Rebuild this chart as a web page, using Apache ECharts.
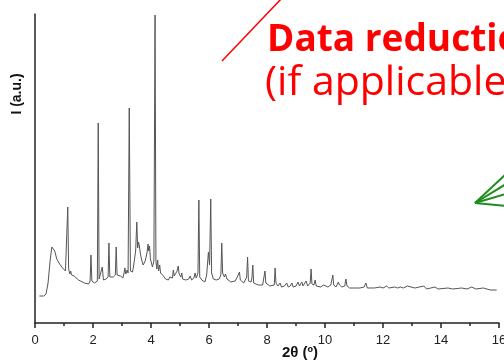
<!DOCTYPE html>
<html>
<head>
<meta charset="utf-8">
<script src="https://cdn.jsdelivr.net/npm/echarts@6/dist/echarts.min.js"></script>
<style>
  html, body { margin: 0; padding: 0; background: #fff; }
  #chart { width: 504px; height: 362px; }
</style>
</head>
<body>
<div id="chart"></div>
<script>
// 2θ positions (degrees)
const twoTheta = [
  0.15, 0.3, 0.38, 0.45, 0.52, 0.58, 0.62, 0.68, 0.75, 0.85, 0.95, 1.05, 1.10, 1.13, 1.16,
  1.2, 1.23, 1.26, 1.3, 1.35, 1.5, 1.7, 1.85, 1.90, 1.93, 1.96, 2.05, 2.15, 2.18, 2.21,
  2.27, 2.32, 2.36, 2.45, 2.52, 2.55, 2.58, 2.7, 2.77, 2.80, 2.83, 2.95, 3.03, 3.07, 3.10,
  3.13, 3.18, 3.21, 3.25, 3.29, 3.36, 3.39, 3.43, 3.47, 3.51, 3.54, 3.57, 3.60, 3.63, 3.67,
  3.73, 3.80, 3.86, 3.90, 3.92, 3.95, 3.98, 4.05, 4.10, 4.14, 4.17, 4.20, 4.23, 4.26, 4.30,
  4.33, 4.39, 4.43, 4.5, 4.6, 4.65, 4.68, 4.74, 4.77, 4.80, 4.84, 4.90, 4.94, 4.97, 5.03,
  5.06, 5.09, 5.2, 5.3, 5.35, 5.4, 5.48, 5.52, 5.56, 5.62, 5.65, 5.68, 5.75, 5.86, 5.92,
  5.98, 6.02, 6.06, 6.09, 6.15, 6.25, 6.35, 6.41, 6.44, 6.47, 6.53, 6.57, 6.62, 6.75, 6.9,
  6.96, 7.0, 7.05, 7.08, 7.2, 7.3, 7.33, 7.36, 7.45, 7.48, 7.51, 7.54, 7.7, 7.85, 7.93,
  7.96, 8.1, 8.25, 8.28, 8.31, 8.38, 8.45, 8.5, 8.6, 8.68, 8.73, 8.8, 8.86, 8.9, 9.0,
  9.07, 9.12, 9.2, 9.24, 9.3, 9.35, 9.4, 9.49, 9.52, 9.55, 9.62, 9.66, 9.7, 9.85, 9.95,
  10.0, 10.1, 10.2, 10.27, 10.3, 10.38, 10.46, 10.50, 10.54, 10.58, 10.68, 10.72, 10.76, 10.85, 11.0,
  11.2, 11.35, 11.41, 11.46, 11.7, 11.9, 12.0, 12.13, 12.2, 12.41, 12.5, 12.6, 12.7, 12.84, 12.9,
  13.1, 13.41, 13.5, 13.79, 13.9, 14.24, 14.4, 14.71, 14.9, 15.06, 15.2, 15.46, 15.7, 15.92
];

// intensity (arbitrary units), same order as twoTheta
const intensity = [
  27, 27, 29, 40, 62, 76, 78, 72, 64, 59, 55, 52, 54, 116, 54,
  49, 52, 48, 50, 47, 43, 40, 39, 42, 68, 42, 40, 42, 200, 44,
  43, 56, 43, 44, 46, 80, 46, 46, 48, 76, 48, 47, 45, 50, 55,
  49, 53, 50, 215, 52, 51, 55, 55, 72, 101, 75, 81, 77, 70, 64,
  58, 62, 70, 79, 72, 77, 64, 56, 62, 308, 62, 54, 63, 52, 58,
  50, 51, 47, 44, 43, 46, 44, 45, 53, 47, 46, 52, 57, 49, 46,
  50, 44, 43, 44, 47, 43, 45, 50, 45, 50, 123, 46, 43, 41, 48,
  71, 58, 124, 50, 44, 43, 44, 48, 80, 50, 46, 49, 44, 41, 42,
  45, 43, 51, 43, 40, 46, 66, 42, 41, 45, 58, 40, 38, 38, 52,
  40, 37, 38, 55, 40, 37, 40, 36, 37, 40, 36, 37, 40, 36, 37,
  41, 37, 41, 37, 38, 42, 37, 40, 54, 39, 38, 43, 37, 36, 38,
  36, 36, 38, 48, 38, 36, 41, 38, 40, 36, 37, 44, 37, 35, 35,
  35, 36, 40, 35, 35, 36, 35, 37, 35, 36, 35, 36, 35, 37, 35,
  35, 37, 34, 36, 34, 35, 34, 35, 34, 36, 34, 35, 33, 33
];

const xTicks = { min: 0, max: 16, step: 2 };

const pattern = twoTheta.map((t, i) => [t, intensity[i]]);

const chart = echarts.init(document.getElementById('chart'), null, { renderer: 'canvas' });

chart.setOption({
  animation: false,
  backgroundColor: '#fff',
  grid: { left: 35, right: 5, top: 14, bottom: 39, outerBoundsMode: 'none' },
  xAxis: {
    type: 'value',
    min: xTicks.min,
    max: xTicks.max,
    interval: xTicks.step,
    name: '2θ (º)',
    nameLocation: 'middle',
    nameGap: 22,
    nameMoveOverlap: false,
    nameTextStyle: {
      fontFamily: 'Liberation Sans',
      fontWeight: 'bold',
      fontSize: 15,
      color: '#111',
      padding: [0, 0, 0, 66]
    },
    axisLine: { lineStyle: { color: '#222', width: 1.5 } },
    axisTick: { length: 5, lineStyle: { color: '#222', width: 1.5 } },
    minorTick: { show: true, splitNumber: 2, length: 3, lineStyle: { color: '#222', width: 1.5 } },
    axisLabel: { fontFamily: 'Liberation Sans', fontSize: 13, color: '#222', margin: 11 },
    splitLine: { show: false }
  },
  yAxis: {
    type: 'value',
    min: 0,
    max: 309,
    axisLine: { show: true, lineStyle: { color: '#222', width: 1.5 } },
    axisTick: { show: false },
    axisLabel: { show: false },
    splitLine: { show: false }
  },
  series: [{
    type: 'line',
    data: pattern,
    symbol: 'none',
    lineStyle: { color: '#555', width: 1 },
    z: 2
  }],
  graphic: [
    {
      type: 'text',
      x: 17, y: 94,
      rotation: Math.PI / 2,
      style: {
        text: 'I (a.u.)',
        font: 'bold 14px "Liberation Sans"',
        fill: '#111',
        align: 'center',
        verticalAlign: 'middle'
      }
    },
    {
      type: 'line',
      shape: { x1: 222, y1: 61, x2: 282, y2: -2 },
      style: { stroke: '#f00', lineWidth: 1.5 }
    },
    {
      type: 'text',
      x: 267, y: 40,
      style: {
        text: 'Data reduction',
        font: 'bold 37px "Open Sans"',
        fill: '#f00',
        align: 'left',
        verticalAlign: 'middle'
      }
    },
    {
      type: 'text',
      x: 265, y: 83,
      style: {
        text: '(if applicable)',
        font: '41px "Open Sans"',
        fill: '#f00',
        align: 'left',
        verticalAlign: 'middle'
      }
    },
    { type: 'line', shape: { x1: 475, y1: 203, x2: 506, y2: 174 }, style: { stroke: '#1e8c1e', lineWidth: 2 } },
    { type: 'line', shape: { x1: 475, y1: 203, x2: 506, y2: 184 }, style: { stroke: '#1e8c1e', lineWidth: 2 } },
    { type: 'line', shape: { x1: 475, y1: 203, x2: 506, y2: 194 }, style: { stroke: '#1e8c1e', lineWidth: 2 } },
    { type: 'line', shape: { x1: 475, y1: 203, x2: 506, y2: 206 }, style: { stroke: '#1e8c1e', lineWidth: 2 } }
  ]
});
</script>
</body>
</html>
